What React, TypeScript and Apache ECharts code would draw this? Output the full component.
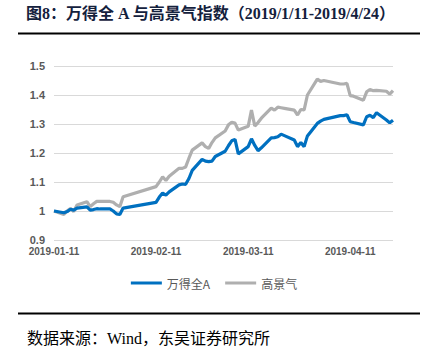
import React, { useEffect, useRef } from 'react';
import * as echarts from 'echarts';

const dates = [
  '2019-01-11', '2019-01-14', '2019-01-15', '2019-01-16', '2019-01-17', '2019-01-18',
  '2019-01-21', '2019-01-22', '2019-01-23', '2019-01-24', '2019-01-25',
  '2019-01-28', '2019-01-29', '2019-01-30', '2019-01-31', '2019-02-01',
  '2019-02-11', '2019-02-12', '2019-02-13', '2019-02-14', '2019-02-15',
  '2019-02-18', '2019-02-19', '2019-02-20', '2019-02-21', '2019-02-22',
  '2019-02-25', '2019-02-26', '2019-02-27', '2019-02-28', '2019-03-01',
  '2019-03-04', '2019-03-05', '2019-03-06', '2019-03-07', '2019-03-08',
  '2019-03-11', '2019-03-12', '2019-03-13', '2019-03-14', '2019-03-15',
  '2019-03-18', '2019-03-19', '2019-03-20', '2019-03-21', '2019-03-22',
  '2019-03-25', '2019-03-26', '2019-03-27', '2019-03-28', '2019-03-29',
  '2019-04-01', '2019-04-02', '2019-04-03',
  '2019-04-08', '2019-04-09', '2019-04-10', '2019-04-11', '2019-04-12',
  '2019-04-15', '2019-04-16', '2019-04-17', '2019-04-18', '2019-04-19',
  '2019-04-22', '2019-04-23', '2019-04-24',
];

const windA = [
  1.000, 0.994, 0.998, 1.006, 1.003, 1.010,
  1.014, 1.003, 1.005, 1.008, 1.007,
  1.007, 1.000, 0.990, 0.988, 1.010,
  1.030, 1.048, 1.062, 1.055, 1.066,
  1.090, 1.093, 1.092, 1.112, 1.140,
  1.178, 1.172, 1.170, 1.172, 1.188,
  1.206, 1.225, 1.242, 1.247, 1.197,
  1.222, 1.249, 1.226, 1.208, 1.218,
  1.252, 1.253, 1.256, 1.265, 1.260,
  1.245, 1.222, 1.236, 1.222, 1.259,
  1.302, 1.310, 1.316,
  1.329, 1.329, 1.332, 1.308, 1.305,
  1.297, 1.325, 1.330, 1.322, 1.339,
  1.314, 1.304, 1.313,
];

const highBoom = [
  1.000, 0.988, 1.000, 1.009, 0.998, 1.021,
  1.032, 1.015, 1.025, 1.033, 1.033,
  1.033, 1.030, 1.021, 1.015, 1.049,
  1.084, 1.100, 1.118, 1.105, 1.120,
  1.147, 1.147, 1.152, 1.182, 1.210,
  1.235, 1.222, 1.216, 1.236, 1.252,
  1.276, 1.297, 1.306, 1.303, 1.279,
  1.292, 1.348, 1.293, 1.305, 1.320,
  1.355, 1.348, 1.358, 1.356, 1.354,
  1.348, 1.331, 1.350, 1.349, 1.400,
  1.455, 1.447, 1.450,
  1.438, 1.438, 1.440, 1.398, 1.396,
  1.382, 1.411, 1.419, 1.415, 1.416,
  1.413, 1.403, 1.415,
];

const xTickLabels = ['2019-01-11', '2019-02-11', '2019-03-11', '2019-04-11'];
const seriesNames = ['万得全A', '高景气'];
const titleText = '图8：万得全 A 与高景气指数（2019/1/11-2019/4/24）';
const sourceText = '数据来源：Wind，东吴证券研究所';

const DAY = 86400000;
const utc = (s: string) => {
  const [y, m, d] = s.split('-').map(Number);
  return Date.UTC(y, m - 1, d);
};
const origin = utc(dates[0]);
const dayNum = (s: string) => Math.round((utc(s) - origin) / DAY);
const pad = (n: number) => (n < 10 ? '0' + n : '' + n);
const fmtDay = (v: number) => {
  const d = new Date(origin + Math.round(v) * DAY);
  return d.getUTCFullYear() + '-' + pad(d.getUTCMonth() + 1) + '-' + pad(d.getUTCDate());
};

export default function App() {
  const ref = useRef<HTMLDivElement>(null);
  useEffect(() => {
    document.body.style.margin = '0';
    const chart = echarts.init(ref.current!, undefined, { renderer: 'svg' });
    const axisFont = '"Liberation Sans", Arial, sans-serif';
    chart.setOption({
      animation: false,
      backgroundColor: '#ffffff',
      grid: { left: 54, right: 35, top: 66, bottom: 115, containLabel: false },
      xAxis: {
        type: 'value',
        min: 0,
        max: dayNum(dates[dates.length - 1]),
        axisLine: { show: false },
        axisTick: { show: false },
        splitLine: { show: false },
        axisLabel: {
          customValues: xTickLabels.map(dayNum),
          formatter: (v: number) => fmtDay(v),
          color: '#595959',
          fontSize: 10,
          fontWeight: 'bold',
          fontFamily: axisFont,
          margin: 6,
        },
      },
      yAxis: {
        type: 'value',
        min: 0.9,
        max: 1.5,
        interval: 0.1,
        axisLine: { show: false },
        axisTick: { show: false },
        splitLine: { lineStyle: { color: '#d9d9d9', width: 1 } },
        axisLabel: {
          color: '#595959',
          fontSize: 11,
          fontWeight: 'bold',
          fontFamily: axisFont,
          margin: 9,
          formatter: (v: number) => String(Math.round(v * 10) / 10),
        },
      },
      legend: {
        top: 272,
        left: 'center',
        icon: 'rect',
        itemWidth: 31,
        itemHeight: 3,
        itemGap: 15,
        textStyle: { color: '#595959', fontSize: 12, fontFamily: '"Noto Sans CJK SC", sans-serif' },
        data: seriesNames,
      },
      series: [
        {
          name: seriesNames[0],
          type: 'line',
          symbol: 'none',
          color: '#0070c0',
          lineStyle: { color: '#0070c0', width: 3.2 },
          data: dates.map((d, i) => [dayNum(d), windA[i]]),
          z: 3,
        },
        {
          name: seriesNames[1],
          type: 'line',
          symbol: 'none',
          color: '#afafaf',
          lineStyle: { color: '#afafaf', width: 3.2 },
          data: dates.map((d, i) => [dayNum(d), highBoom[i]]),
          z: 2,
        },
      ],
      graphic: [
        {
          type: 'text',
          left: 26,
          top: 5,
          style: {
            text: titleText,
            fill: '#14213d',
            fontSize: 16,
            fontWeight: 'bold',
            fontFamily: '"Liberation Serif", "Noto Sans CJK SC", serif',
          },
        },
        {
          type: 'line',
          shape: { x1: 18, y1: 33.5, x2: 420, y2: 33.5 },
          style: { stroke: '#000000', lineWidth: 2 },
        },
        {
          type: 'line',
          shape: { x1: 18, y1: 313.5, x2: 420, y2: 313.5 },
          style: { stroke: '#000000', lineWidth: 2 },
        },
        {
          type: 'text',
          left: 27,
          top: 330,
          style: {
            text: sourceText,
            fill: '#000000',
            fontSize: 16,
            fontFamily: '"Liberation Serif", "Noto Sans CJK SC", serif',
          },
        },
      ],
    });
    return () => chart.dispose();
  }, []);
  return <div ref={ref} style={{ width: 428, height: 355 }} />;
}
